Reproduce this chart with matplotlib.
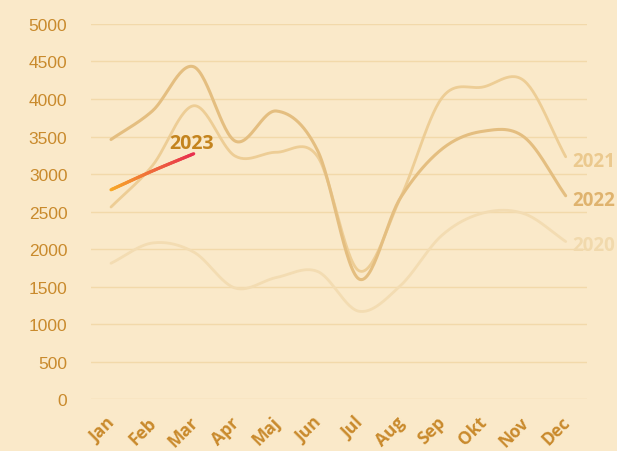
import numpy as np
import matplotlib
matplotlib.use("Agg")
import matplotlib.pyplot as plt
from matplotlib.collections import LineCollection
from matplotlib.colors import LinearSegmentedColormap
from matplotlib.transforms import ScaledTranslation

months = ["Jan", "Feb", "Mar", "Apr", "Maj", "Jun", "Jul", "Aug", "Sep", "Okt", "Nov", "Dec"]
y2020 = [1810, 2080, 1960, 1480, 1620, 1700, 1170, 1510, 2180, 2480, 2470, 2100]
y2021 = [2560, 3110, 3910, 3240, 3290, 3230, 1710, 2680, 4010, 4160, 4240, 3230]
y2022 = [3460, 3840, 4430, 3440, 3840, 3310, 1600, 2680, 3330, 3570, 3490, 2710]
y2023 = [2790, 3040, 3270]
yticks = [0, 500, 1000, 1500, 2000, 2500, 3000, 3500, 4000, 4500, 5000]

BG = "#FAE9C9"
TICK = "#C98A2C"
GRID = "#F2D9AA"


def catmull(x, y, n=30):
    x = np.asarray(x, float)
    y = np.asarray(y, float)
    m = np.zeros_like(y)
    m[1:-1] = (y[2:] - y[:-2]) / 2
    m[0] = (y[1] - y[0])
    m[-1] = (y[-1] - y[-2])
    xs, ys = [], []
    for i in range(len(x) - 1):
        t = np.linspace(0, 1, n, endpoint=(i == len(x) - 2))
        h00 = 2 * t**3 - 3 * t**2 + 1
        h10 = t**3 - 2 * t**2 + t
        h01 = -2 * t**3 + 3 * t**2
        h11 = t**3 - t**2
        xs.append(x[i] + t * (x[i + 1] - x[i]))
        ys.append(h00 * y[i] + h10 * m[i] + h01 * y[i + 1] + h11 * m[i + 1])
    return np.concatenate(xs), np.concatenate(ys)


fig = plt.figure(figsize=(6.17, 4.52), dpi=100, facecolor=BG)
ax = fig.add_axes([0.1475, 0.115, 0.951 - 0.1475, 0.9447 - 0.115], facecolor=BG)
ax.set_xlim(-0.484, 11.51)
ax.set_ylim(0, 5000)
for s in ax.spines.values():
    s.set_visible(False)
ax.set_yticks(yticks)
ax.set_yticklabels([str(v) for v in yticks], fontsize=12.5, color=TICK, family="Liberation Sans")
ax.yaxis.grid(True, color=GRID, linewidth=1)
ax.set_axisbelow(True)
ax.tick_params(axis="y", length=0, pad=17)
ax.set_xticks(range(len(months)))
ax.set_xticklabels(months, rotation=45, ha="right", va="top", rotation_mode="anchor",
                   fontsize=12.5, fontweight="bold", color=TICK, family="Open Sans")
ax.tick_params(axis="x", length=0, pad=10)
off = ScaledTranslation(-5 / 100, 0, fig.dpi_scale_trans)
for lab in ax.get_xticklabels():
    lab.set_transform(lab.get_transform() + off)

xi = np.arange(len(months))
series = [
    ("2020", y2020, "#F3DCB2", "#F1D9AC", 2.0),
    ("2021", y2021, "#EDCD95", "#EBC98E", 2.0),
    ("2022", y2022, "#E4BE80", "#DFB36E", 2.2),
]
for name, vals, col, tcol, lw in series:
    sx, sy = catmull(xi, vals)
    ax.plot(sx, sy, color=col, lw=lw, solid_capstyle="round", zorder=3)
    ax.text(len(months) - 1 + 0.17, vals[-1] - 50, name, color=tcol,
            fontsize=13.5, fontweight="bold", family="Open Sans", va="center", ha="left",
            clip_on=False)

sx, sy = catmull(np.arange(len(y2023)), y2023)
pts = np.column_stack([sx, sy]).reshape(-1, 1, 2)
segs = np.concatenate([pts[:-1], pts[1:]], axis=1)
cmap = LinearSegmentedColormap.from_list("g", ["#F7A928", "#E8304E"])
lc = LineCollection(segs, cmap=cmap, linewidth=2.3, capstyle="round", zorder=5)
lc.set_array(np.linspace(0, 1, len(segs)))
ax.add_collection(lc)
ax.text(len(y2023) - 1 - 0.05, y2023[-1] + 5, "2023", color="#C4841E", fontsize=14,
        fontweight="bold", family="Open Sans", ha="center", va="bottom", zorder=6)

fig.savefig("out.png", dpi=100, facecolor=BG)
